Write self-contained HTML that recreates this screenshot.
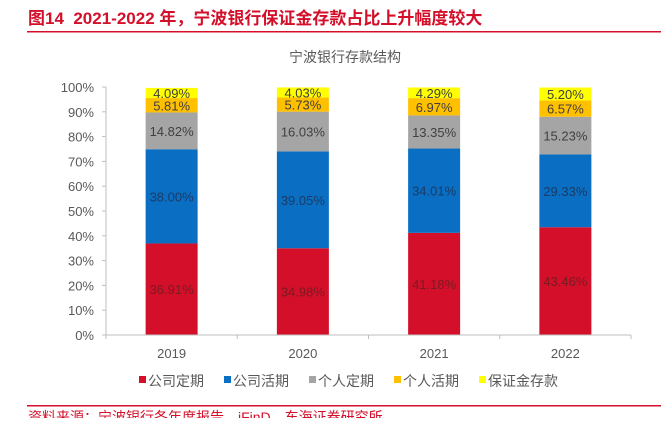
<!DOCTYPE html>
<html><head><meta charset="utf-8"><style>
body{margin:0;background:#fff;width:661px;height:418px;overflow:hidden;font-family:"Liberation Sans","Noto Sans CJK SC",sans-serif}
</style></head><body>
<svg id="c" width="661" height="418" xmlns="http://www.w3.org/2000/svg">
<text x="28" y="24" font-size="17" font-weight="bold" fill="#d40f2a">图14&#160;&#160;2021-2022 年，宁波银行保证金存款占比上升幅度较大</text>
<rect x="27" y="31" width="634" height="1.5" fill="#d40f2a"/>
<text x="345" y="62" font-size="14" fill="#595959" text-anchor="middle">宁波银行存款结构</text>
<rect x="27" y="405" width="634" height="1.5" fill="#d40f2a"/>
<text x="28" y="422" font-size="14" fill="#d40f2a">资料来源：宁波银行各年度报告，iFinD，东海证券研究所</text>
<g id="plot"></g>
</svg>
<script>
const categories=["2019","2020","2021","2022"];
const seriesNames=["公司定期","公司活期","个人定期","个人活期","保证金存款"];
const corpTerm=[36.91,34.98,41.18,43.46];
const corpDemand=[38.00,39.05,34.01,29.33];
const persTerm=[14.82,16.03,13.35,15.23];
const persDemand=[5.81,5.73,6.97,6.57];
const margin=[4.09,4.03,4.29,5.20];
const yTicks=[0,10,20,30,40,50,60,70,80,90,100];
const colors=["#d40f2a","#0a6fc2","#a5a5a5","#ffc000","#ffff00"];
const labelColors=["#7a1a22","#1b3a66","#404040","#404040","#404040"];
const series=[corpTerm,corpDemand,persTerm,persDemand,margin];
const ns="http://www.w3.org/2000/svg";
const g=document.getElementById("plot");
const x0=106,x1=631,y0=335,y1=87;
const bw=(x1-x0)/categories.length;
const y=v=>y0-(v/100)*(y0-y1);
const xc=i=>x0+bw*(i+0.5);
function mk(t,a){const e=document.createElementNS(ns,t);for(const k in a)e.setAttribute(k,a[k]);g.appendChild(e);return e;}
yTicks.forEach(t=>{
 const e=mk("text",{x:x0-12,y:y(t)+5,"font-size":13,fill:"#595959","text-anchor":"end"});e.textContent=t+"%";
 
 
 const l=mk("line",{x1:x0-4,x2:x0,y1:y(t),y2:y(t),stroke:"#bfbfbf"});
 
 
});
const ya=mk("line",{x1:x0,x2:x0,y1:y1,y2:y0,stroke:"#bfbfbf"});


categories.forEach((c,i)=>{
 let acc=0;
 series.forEach((s,k)=>{
  const v=s[i];
  const r=mk("rect",{x:xc(i)-26,width:52,y:y(acc+v),height:y(acc)-y(acc+v),fill:colors[k]});
  
  
  const t=mk("text",{x:xc(i),y:(y(acc)+y(acc+v))/2+5,"font-size":13,fill:labelColors[k],"text-anchor":"middle"});
  t.textContent=v.toFixed(2)+"%";
  
  
  acc+=v;
 });
 const t=mk("text",{x:xc(i),y:358,"font-size":13,fill:"#595959","text-anchor":"middle"});t.textContent=c;
 
 
});
for(let i=0;i<=categories.length;i++){const l=mk("line",{x1:x0+bw*i,x2:x0+bw*i,y1:y0,y2:y0+4,stroke:"#bfbfbf"});
 
 }
const xa=mk("line",{x1:x0,x2:x1,y1:y0,y2:y0,stroke:"#bfbfbf"});


const lx=[139,224,309,394,479];
seriesNames.forEach((n,k)=>{
 const r=mk("rect",{x:lx[k],y:376,width:7,height:7,fill:colors[k]});
 
 
 const t=mk("text",{x:lx[k]+9,y:386,"font-size":14,fill:"#595959"});t.textContent=n;
 
 
});
</script>
</body></html>
